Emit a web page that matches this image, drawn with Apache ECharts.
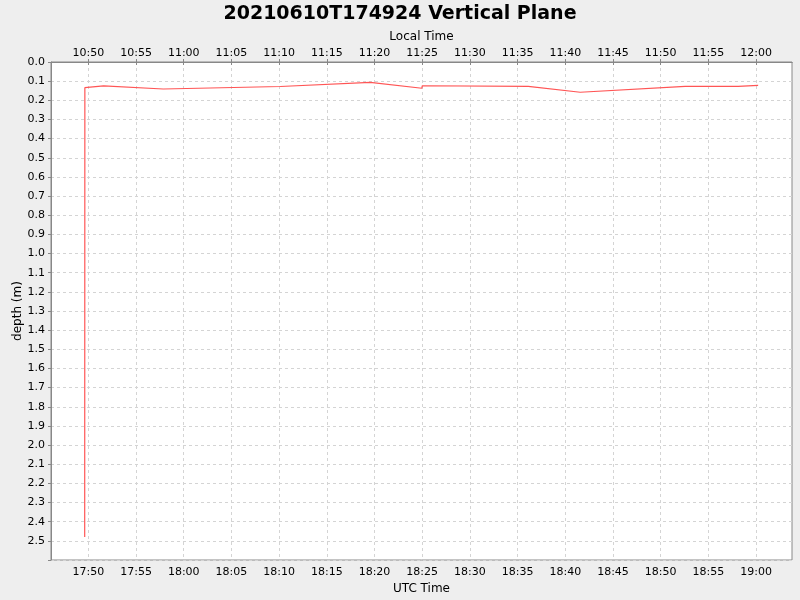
<!DOCTYPE html>
<html>
<head>
<meta charset="utf-8">
<script src="https://cdn.jsdelivr.net/npm/echarts@6/dist/echarts.min.js"></script>
<style>
  html, body { margin: 0; padding: 0; background: #eeeeee; }
  #chart { width: 800px; height: 600px; }
</style>
</head>
<body>
<div id="chart"></div>
<script>
// UTC sample times (2021-06-10) and depth in metres
const utcTimes = [
  '17:49:37', '17:49:38', '17:51:36', '17:57:51', '18:10:07', '18:19:33',
  '18:24:58', '18:25:00', '18:36:07', '18:41:34', '18:52:34', '18:58:07', '19:00:13'
]
const depths = [
  2.48, 0.134, 0.125, 0.141, 0.128, 0.106,
  0.137, 0.124, 0.127, 0.158, 0.127, 0.127, 0.122
]
// tick marks on the time axes (UTC)
const utcTicks = [
  '17:50', '17:55', '18:00', '18:05', '18:10', '18:15', '18:20', '18:25',
  '18:30', '18:35', '18:40', '18:45', '18:50', '18:55', '19:00'
]
const xRange = ['17:46:05', '19:03:46']
const depthMax = 2.6
const localOffsetHours = -7

function toMs (hms) {
    let [h, m, s] = hms.split(':').map(Number)
    return Date.UTC(2021, 5, 10, h, m, s || 0)
}

function hhmm (ms, offsetH) {
    let d = new Date(ms + offsetH * 3600000)
    let h = String(d.getUTCHours()).padStart(2, '0')
    let m = String(d.getUTCMinutes()).padStart(2, '0')
    return h + ':' + m
}

const font = 'DejaVu Sans'
const gridLine = { show: true, lineStyle: { color: '#d4d4d4', type: [3, 3], width: 1 } }
const axisLine = { show: true, lineStyle: { color: '#888888' } }
const tickValues = utcTicks.map(toMs)

function timeAxis (position, name, offsetH) {
    let top = position === 'top'
    return {
        type: 'value',
        position: position,
        min: toMs(xRange[0]),
        max: toMs(xRange[1]),
        name: name,
        nameLocation: 'middle',
        nameGap: top ? 18 : 15,
        nameTextStyle: { fontFamily: font, fontSize: 12, color: '#000' },
        axisLine: axisLine,
        axisTick: { show: true, length: 3, customValues: tickValues, lineStyle: { color: '#888888' } },
        axisLabel: {
            customValues: tickValues,
            formatter: v => hhmm(v, offsetH),
            fontFamily: font, fontSize: 11, color: '#000',
            margin: top ? 3 : 7, hideOverlap: false
        },
        splitLine: top ? { show: false } : gridLine
    }
}

let chart = echarts.init(document.getElementById('chart'))
chart.setOption({
    animation: false,
    backgroundColor: '#eeeeee',
    title: {
        text: '20210610T174924 Vertical Plane',
        left: 'center',
        top: 0,
        textStyle: { fontFamily: font, fontWeight: 'bold', fontSize: 19, color: '#000' }
    },
    graphic: [{
        type: 'text',
        x: 18,
        y: 311,
        rotation: Math.PI / 2,
        style: {
            text: 'depth (m)',
            fontFamily: font, fontSize: 12, fill: '#000',
            align: 'center', verticalAlign: 'middle'
        }
    }],
    grid: {
        left: 51, right: 8, top: 62, bottom: 40,
        outerBoundsMode: 'none',
        containLabel: false,
        show: true, backgroundColor: '#ffffff', borderColor: '#888888', borderWidth: 1
    },
    xAxis: [
        timeAxis('bottom', 'UTC Time', 0),
        timeAxis('top', 'Local Time', localOffsetHours)
    ],
    yAxis: {
        type: 'value',
        inverse: true,
        min: 0,
        max: depthMax,
        interval: 0.1,
        axisLine: axisLine,
        axisTick: { show: true, length: 3, lineStyle: { color: '#888888' } },
        axisLabel: {
            formatter: v => v > 2.55 ? '' : v.toFixed(1),
            fontFamily: font, fontSize: 11, color: '#000', margin: 6
        },
        splitLine: gridLine
    },
    series: [{
        type: 'line',
        xAxisIndex: 0,
        data: utcTimes.map((t, i) => [toMs(t), depths[i]]),
        showSymbol: false,
        lineStyle: { color: '#ff5555', width: 1.2 },
        itemStyle: { color: '#ff5555' }
    }]
})
</script>
</body>
</html>
